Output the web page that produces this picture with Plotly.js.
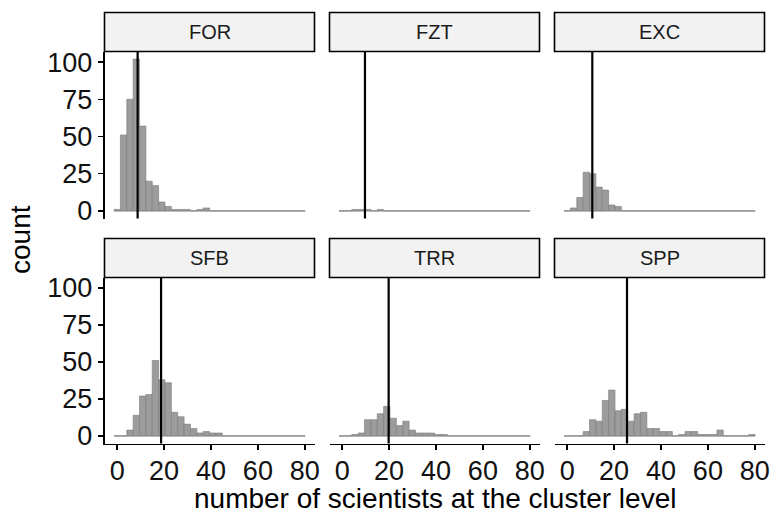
<!DOCTYPE html>
<html>
<head>
<meta charset="utf-8">
<script src="https://cdn.plot.ly/plotly-3.0.1.min.js"></script>
<style>html,body{margin:0;padding:0;background:#fff;}#chart{width:773px;height:517px;}</style>
</head>
<body>
<div id="chart"></div>
<script>
// ---- data ----
const facets = ['FOR', 'FZT', 'EXC', 'SFB', 'TRR', 'SPP'];
const countsFOR = [1,51,75,102,57,20,17,6,3,1,1,1,0,1,2,0,0,0,0,0,0,0,0,0,0,0,0,0,0,0];
const countsFZT = [0,0,1,1,1,0,1,0,0,0,0,0,0,0,0,0,0,0,0,0,0,0,0,0,0,0,0,0,0,0];
const countsEXC = [0,2,9,26,25,16,14,4,3,0,0,0,0,0,0,0,0,0,0,0,0,0,0,0,0,0,0,0,0,0];
const countsSFB = [0,0,4,14,27,28,51,38,36,16,13,8,5,2,3,2,2,0,0,0,0,0,0,0,0,0,0,0,0,0];
const countsTRR = [0,0,1,2,11,11,15,20,12,7,10,4,2,2,2,1,1,0,0,0,0,0,0,0,0,0,0,0,0,0];
const countsSPP = [0,0,0,3,11,10,24,31,17,18,10,15,16,5,5,3,3,0,1,3,3,1,1,1,4,0,0,0,0,1];
const vlineX = [8.7, 9.7, 10.7, 18.7, 19.8, 25.5];
const xTicks = [0, 20, 40, 60, 80];
const yTicks = [0, 25, 50, 75, 100];
const binWidth = 2.717;

const allCounts = [countsFOR, countsFZT, countsEXC, countsSFB, countsTRR, countsSPP];

// ---- layout geometry (pixels) ----
const W = 773, H = 517;
const colX = [[104.5, 314.5], [329.5, 539.5], [554.5, 764.5]];
const rowY = [[51.5, 218.5], [277.5, 443.5]];
const stripY = [[12.5, 51.5], [238.5, 277.5]];
const fx = p => p / W;
const fy = p => 1 - p / H;

const xRange = [-5.43, 84.15];
const yRange = [-5.1, 107.1];

const traces = [];
const layout = {
  width: W, height: H,
  margin: {l: 0, r: 0, t: 0, b: 0},
  paper_bgcolor: '#ffffff',
  plot_bgcolor: 'rgba(0,0,0,0)',
  showlegend: false,
  bargap: 0,
  font: {family: 'Liberation Sans, Arial, sans-serif', color: '#000000'},
  shapes: [],
  annotations: []
};

facets.forEach((name, i) => {
  const r = Math.floor(i / 3), c = i % 3;
  const sfx = i === 0 ? '' : String(i + 1);
  const xa = 'x' + sfx, ya = 'y' + sfx;
  const counts = allCounts[i];
  const centers = counts.map((_, k) => k * binWidth);

  // baseline for empty bins
  traces.push({
    type: 'scatter', mode: 'lines',
    x: [centers[0] - binWidth / 2, centers[centers.length - 1] + binWidth / 2],
    y: [0, 0],
    line: {color: '#8c8c8c', width: 1},
    hoverinfo: 'skip', xaxis: xa, yaxis: ya
  });
  traces.push({
    type: 'bar', x: centers, y: counts, width: binWidth,
    marker: {color: '#9c9c9c', line: {color: '#7a7a7a', width: 0.6}},
    xaxis: xa, yaxis: ya
  });

  const isBottom = r === 1, isLeft = c === 0;
  layout['xaxis' + sfx] = {
    domain: [fx(colX[c][0]), fx(colX[c][1])],
    anchor: ya, range: xRange, fixedrange: true,
    showgrid: false, zeroline: false,
    showline: isBottom, linecolor: '#000', linewidth: 1.8,
    ticks: isBottom ? 'outside' : '', ticklen: 5, tickwidth: 1.5, tickcolor: '#000',
    tickvals: xTicks, showticklabels: isBottom, ticklabelstandoff: -3,
    tickfont: {size: 27, color: '#111111'}
  };
  layout['yaxis' + sfx] = {
    domain: [fy(rowY[r][1]), fy(rowY[r][0])],
    anchor: xa, range: yRange, fixedrange: true,
    showgrid: false, zeroline: false,
    showline: isLeft, linecolor: '#000', linewidth: 1.8,
    ticks: isLeft ? 'outside' : '', ticklen: 5, tickwidth: 1.5, tickcolor: '#000',
    tickvals: yTicks, showticklabels: isLeft,
    tickfont: {size: 27, color: '#111111'}
  };

  // mean line
  layout.shapes.push({
    type: 'line', xref: xa, yref: ya + ' domain',
    x0: vlineX[i], x1: vlineX[i], y0: 0, y1: 1,
    line: {color: '#000', width: 2.2}
  });
  // strip
  layout.shapes.push({
    type: 'rect', xref: 'paper', yref: 'paper',
    x0: fx(colX[c][0]), x1: fx(colX[c][1]),
    y0: fy(stripY[r][1]), y1: fy(stripY[r][0]),
    fillcolor: '#f2f2f2', line: {color: '#000', width: 1.6}, layer: 'above'
  });
  layout.annotations.push({
    xref: 'paper', yref: 'paper',
    x: fx((colX[c][0] + colX[c][1]) / 2), y: fy((stripY[r][0] + stripY[r][1]) / 2),
    text: name, showarrow: false, xanchor: 'center', yanchor: 'middle',
    font: {size: 20, color: '#1a1a1a'}
  });
});

layout.annotations.push({
  xref: 'paper', yref: 'paper', x: fx(434.5), y: fy(498.5),
  text: 'number of scientists at the cluster level', showarrow: false,
  xanchor: 'center', yanchor: 'middle', font: {size: 28, color: '#000'}
});
layout.annotations.push({
  xref: 'paper', yref: 'paper', x: fx(21), y: fy(240),
  text: 'count', showarrow: false, textangle: -90,
  xanchor: 'center', yanchor: 'middle', font: {size: 28, color: '#000'}
});

Plotly.newPlot('chart', traces, layout, {staticPlot: true, displayModeBar: false});
</script>
</body>
</html>
